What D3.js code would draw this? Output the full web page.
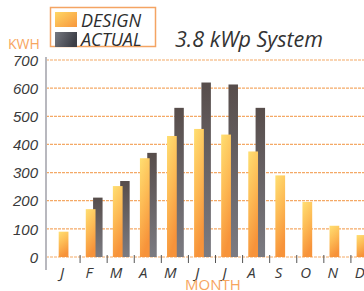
<!DOCTYPE html>
<html><head><meta charset="utf-8">
<script src="https://cdn.jsdelivr.net/npm/d3@7"></script>
<style>
html,body{margin:0;padding:0;background:#fff;}
svg{display:block;font-family:"Open Sans",sans-serif;}
</style></head>
<body>
<svg id="c" width="364" height="291"></svg>
<script>
const months = ["J","F","M","A","M","J","J","A","S","O","N","D"];
const design = [90,170,252,351,430,455,435,375,290,196,111,78];
const actual = [null,211,270,370,530,620,613,530,null,null,null,null];
const yTicks = [0,100,200,300,400,500,600,700];
const legendLabels = ["DESIGN","ACTUAL"];
const title = "3.8 kWp System";
const yTitle = "KWH";
const xTitle = "MONTH";

const svg = d3.select("#c");
const defs = svg.append("defs");
function grad(id, stops, x2, y2){
  const g = defs.append("linearGradient").attr("id",id)
    .attr("x1","0").attr("y1","0").attr("x2",x2).attr("y2",y2);
  stops.forEach(([o,c])=>g.append("stop").attr("offset",o).attr("stop-color",c));
}
grad("gDesign",[[0,"#ffdf72"],[0.5,"#fdbb55"],[1,"#f7933a"]],"0.3","1");
grad("gActual",[[0,"#574d4b"],[1,"#7b7b82"]],"0","1");
grad("gLegD",[[0,"#ffd765"],[1,"#f7963c"]],"1","1");
grad("gLegA",[[0,"#767880"],[1,"#3d3f47"]],"1","0.3");

const idx = d3.range(months.length);
const x = d3.scaleBand().domain(idx).range([53,378]).paddingInner(0).paddingOuter(0);
const y = d3.scaleLinear().domain([0,700]).range([257,60]);
const bw = x.bandwidth();

// gridlines
svg.append("g").selectAll("line").data(yTicks).join("line")
  .attr("x1",46).attr("x2",364)
  .attr("y1",d=>y(d)).attr("y2",d=>y(d))
  .attr("stroke","#f39b4c").attr("stroke-width",1.2)
  .attr("stroke-dasharray","3,1").attr("opacity",0.85);

// y axis
const yAxis = d3.axisLeft(y).tickValues(yTicks).tickSize(0).tickPadding(8);
const gy = svg.append("g").attr("transform","translate(46,0)").call(yAxis);
gy.select(".domain").remove();
gy.selectAll("text").attr("font-size",15).attr("font-style","italic")
  .attr("fill","#3a3a3a").attr("x",-8).attr("dy","0.35em");
svg.append("line").attr("x1",46).attr("x2",46).attr("y1",57).attr("y2",270)
  .attr("stroke","#b8b8be").attr("stroke-width",2);

// x ticks at band boundaries
svg.append("g").selectAll("line").data(idx.slice(1)).join("line")
  .attr("x1",d=>x(d)).attr("x2",d=>x(d))
  .attr("y1",255).attr("y2",263)
  .attr("stroke","#555").attr("stroke-width",1);

// bars
svg.append("g").selectAll("rect").data(idx.filter(i=>actual[i]!=null)).join("rect")
  .attr("x",i=>x(i)+bw*0.48).attr("width",bw*0.35)
  .attr("y",i=>y(actual[i])).attr("height",i=>y(0)-y(actual[i]))
  .attr("fill","url(#gActual)");
svg.append("g").selectAll("rect").data(idx).join("rect")
  .attr("x",i=>x(i)+bw*0.21).attr("width",bw*0.36)
  .attr("y",i=>y(design[i])).attr("height",i=>y(0)-y(design[i]))
  .attr("fill","url(#gDesign)");

// x labels
svg.append("g").selectAll("text").data(idx).join("text")
  .attr("x",i=>x(i)+bw*0.33).attr("y",278)
  .attr("text-anchor","middle").attr("font-size",15).attr("font-style","italic")
  .attr("fill","#3a3a3a").text(i=>months[i]);

svg.append("text").attr("x",213).attr("y",290).attr("text-anchor","middle")
  .attr("font-size",15).attr("fill","#f7a55e").text(xTitle);
svg.append("text").attr("x",8).attr("y",49)
  .attr("font-size",14).attr("fill","#f7a55e").text(yTitle);

// legend
svg.append("rect").attr("x",50.5).attr("y",7.5).attr("width",105).attr("height",39)
  .attr("fill","#fff").attr("stroke","#f4a463").attr("stroke-width",1.5);
const lg = svg.append("g");
lg.selectAll("rect").data(legendLabels).join("rect")
  .attr("x",55).attr("y",(d,i)=>12+i*20).attr("width",22).attr("height",15)
  .attr("fill",(d,i)=>i===0?"url(#gLegD)":"url(#gLegA)");
lg.selectAll("text").data(legendLabels).join("text")
  .attr("x",81).attr("y",(d,i)=>27+i*18.5).attr("font-size",18).attr("font-style","italic")
  .attr("fill","#2e2e2e").text(d=>d);

svg.append("text").attr("x",175).attr("y",47).attr("font-size",21.5).attr("font-style","italic")
  .attr("fill","#333").text(title);
</script>
</body></html>
